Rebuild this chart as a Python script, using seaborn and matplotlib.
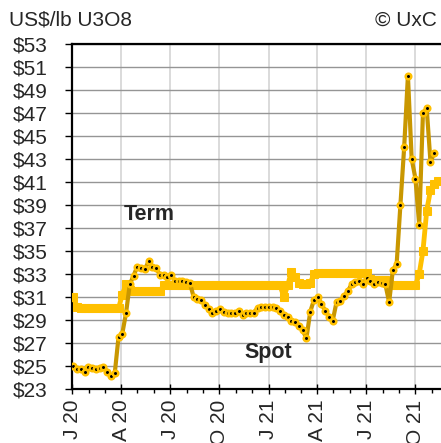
import pandas as pd
import matplotlib
matplotlib.use("Agg")
import matplotlib.pyplot as plt
import matplotlib.dates as mdates
import seaborn as sns

# Weekly UxC uranium prices, US$/lb U3O8
spot_start = "2020-01-03"
spot_price = [
    25.0, 24.7, 24.7, 24.45, 24.9, 24.8, 24.7, 24.85, 24.95, 24.5,
    24.1, 24.35, 27.5, 27.8, 29.6, 32.1, 32.85, 33.65, 33.5, 33.4,
    34.1, 33.65, 33.5, 32.95, 32.9, 32.7, 32.95, 32.4, 32.4, 32.35,
    32.3, 32.2, 31.0, 30.8, 30.75, 30.3, 29.95, 29.65, 29.8, 29.95,
    29.7, 29.65, 29.65, 29.65, 29.8, 29.4, 29.6, 29.65, 29.65, 30.05,
    30.1, 30.15, 30.15, 30.15, 30.05, 29.8, 29.45, 29.3, 28.95, 28.8,
    28.5, 28.1, 27.4, 29.7, 30.75, 31.0, 30.4, 29.8, 29.3, 28.95,
    30.55, 30.65, 31.1, 31.5, 32.1, 32.3, 32.35, 32.1, 32.65, 32.4,
    32.1, 32.3, 32.2, 32.1, 30.55, 33.35, 33.85, 39.0, 44.0, 50.25,
    43.0, 41.3, 37.3, 47.0, 47.4, 42.75, 43.5,
]
term_price = [
    31.0, 30.1, 30.0, 30.0, 30.0, 30.0, 30.0, 30.0, 30.0, 30.0,
    30.0, 30.0, 30.0, 31.2, 32.1, 31.6, 31.5, 31.5, 31.5, 31.5,
    31.5, 31.5, 31.5, 31.5, 32.0, 32.0, 32.0, 32.0, 32.0, 32.0,
    32.0, 32.0, 32.0, 32.0, 32.0, 32.0, 32.0, 32.0, 32.0, 32.0,
    32.0, 32.0, 32.0, 32.0, 32.0, 32.0, 32.0, 32.0, 32.0, 32.0,
    32.0, 32.0, 32.0, 32.0, 32.0, 32.0, 31.0, 32.0, 33.2, 32.7,
    32.2, 32.1, 32.1, 32.2, 33.0, 33.1, 33.1, 33.1, 33.1, 33.1,
    33.1, 33.1, 33.1, 33.1, 33.1, 33.1, 33.1, 33.1, 33.1, 32.6,
    32.5, 32.5, 32.5, 32.5, 32.1, 32.0, 32.0, 32.0, 32.0, 32.0,
    32.0, 32.0, 33.0, 35.0, 38.5, 40.3, 40.8, 41.1,
]
quarter_labels = ["J 20", "A 20", "J 20", "O 20", "J 21", "A 21", "J 21", "O 21"]
y_ticks = list(range(23, 54, 2))

spot = pd.DataFrame({"date": pd.date_range(spot_start, periods=len(spot_price), freq="7D"),
                     "price": spot_price})
term = pd.DataFrame({"date": pd.date_range(spot_start, periods=len(term_price), freq="7D"),
                     "price": term_price})

sns.set_style("white")
plt.rcParams["font.family"] = ["Liberation Sans", "DejaVu Sans"]

fig = plt.figure(figsize=(4.41, 4.43), dpi=100)
ax = fig.add_axes([0.164, 0.1219, 0.845, 0.7788])

sns.lineplot(data=term, x="date", y="price", ax=ax, color="#FFC000", linewidth=3.5,
             marker="s", markersize=5.5, markeredgecolor="#FFC000", markerfacecolor="#FFC000", zorder=3)
sns.lineplot(data=spot, x="date", y="price", ax=ax, color="#C99700", linewidth=3,
             marker="o", markersize=4, markerfacecolor="black", markeredgecolor="#FFC000",
             markeredgewidth=1.8, zorder=4)

ax.set_xlim(pd.Timestamp("2020-01-01"), pd.Timestamp("2021-11-25"))
ax.set_ylim(23, 53)
ax.set_yticks(y_ticks)
ax.set_yticklabels([f"${v}" for v in y_ticks])

ax.xaxis.set_major_locator(mdates.MonthLocator(bymonth=[1, 4, 7, 10]))
ax.xaxis.set_minor_locator(mdates.MonthLocator())
ax.set_xticklabels(quarter_labels, rotation=90)

ax.set_xlabel("")
ax.set_ylabel("")

ax.grid(axis="y", color="#959595", linewidth=1)
ax.grid(axis="x", which="major", color="#D4D4D4", linewidth=1.2)
ax.set_axisbelow(True)

for side in ["left", "bottom", "top"]:
    ax.spines[side].set_color("black")
    ax.spines[side].set_linewidth(1.6)
ax.spines["right"].set_visible(False)

ax.tick_params(axis="y", direction="out", length=5, width=1, color="black",
               left=True, labelsize=15, pad=13)
ax.tick_params(axis="x", which="major", direction="inout", length=7, width=1,
               color="black", bottom=True, labelsize=15, pad=4)
ax.tick_params(axis="x", which="minor", direction="out", length=3, width=1,
               color="black", bottom=True)

ax.text(0.206, 0.507, "Term", transform=ax.transAxes, ha="center", va="center",
        fontsize=15.5, fontweight="bold")
ax.text(0.526, 0.107, "Spot", transform=ax.transAxes, ha="center", va="center",
        fontsize=15.5, fontweight="bold")

fig.text(0.021, 0.955, "US$/lb U3O8", ha="left", va="center", fontsize=15)
fig.text(0.99, 0.955, "\u00a9 UxC", ha="right", va="center", fontsize=15)

fig.savefig("out.png", dpi=100)
plt.close(fig)
